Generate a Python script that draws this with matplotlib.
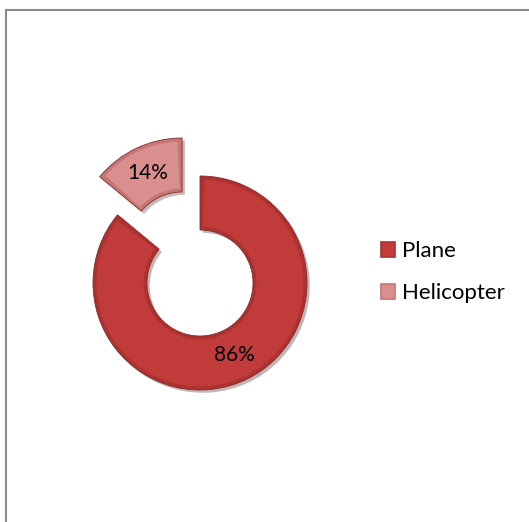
import numpy as np
import matplotlib.pyplot as plt
import matplotlib.patheffects as pe
from matplotlib.patches import Wedge
from matplotlib.lines import Line2D

plt.rcParams['font.family'] = ['Lato', 'DejaVu Sans']

labels = ["Plane", "Helicopter"]
shares = [86, 14]
colors = ["#C23B3B", "#DA8E8E"]
rims = ["#AC3131", "#C47676"]
explode = [0, 42]

fig = plt.figure(figsize=(5.29, 5.22), dpi=100)
ax = fig.add_axes([0, 0, 1, 1])

wedges = ax.pie(
    shares, radius=107, center=(200, 239), startangle=90, counterclock=False,
    colors=rims, explode=explode, frame=True,
    wedgeprops=dict(width=54, linewidth=0.6),
)[0]

# bevel look: darker rim wedge underneath, face colour inset a few pixels
inset = 3.5
for w, c, rim in zip(wedges, colors, rims):
    w.set_edgecolor("#8a2a2a")
    w.set_path_effects([pe.SimplePatchShadow(offset=(2, -2), alpha=0.3), pe.Normal()])
    rmid = w.r - w.width / 2
    dth = np.rad2deg(inset / rmid)
    face = Wedge(w.center, w.r - inset, w.theta1 + dth, w.theta2 - dth,
                 width=w.width - 2 * inset, facecolor=c, edgecolor="none")
    ax.add_patch(face)

# percentage labels sit in the middle of each ring segment
for w, s in zip(wedges, shares):
    ang = np.deg2rad((w.theta1 + w.theta2) / 2)
    r = w.r - w.width / 2
    cx, cy = w.center
    ax.text(cx + r * np.cos(ang), cy + r * np.sin(ang), f"{s}%",
            ha="center", va="center", fontsize=15, color="black")

ax.set_xlim(0, 529)
ax.set_ylim(0, 522)
ax.set_aspect("equal")
ax.axis("off")

handles = [plt.Rectangle((0, 0), 1, 1, facecolor=c, edgecolor=r, lw=1.2)
           for c, r in zip(colors, rims)]
ax.legend(handles, labels, loc="center left", bbox_to_anchor=(381, 250),
          bbox_transform=ax.transData, frameon=False, fontsize=16,
          handlelength=0.65, handleheight=0.65, handletextpad=0.3,
          labelspacing=1.0, borderpad=0, borderaxespad=0)

# chart area border (top and left edges)
fig.add_artist(Line2D([5.5 / 529, 1], [1 - 9.5 / 522] * 2, color="#8a8a8a", lw=1.5))
fig.add_artist(Line2D([6 / 529] * 2, [0, 1 - 9.5 / 522], color="#8a8a8a", lw=1.5))

fig.savefig("out.png", dpi=100)
